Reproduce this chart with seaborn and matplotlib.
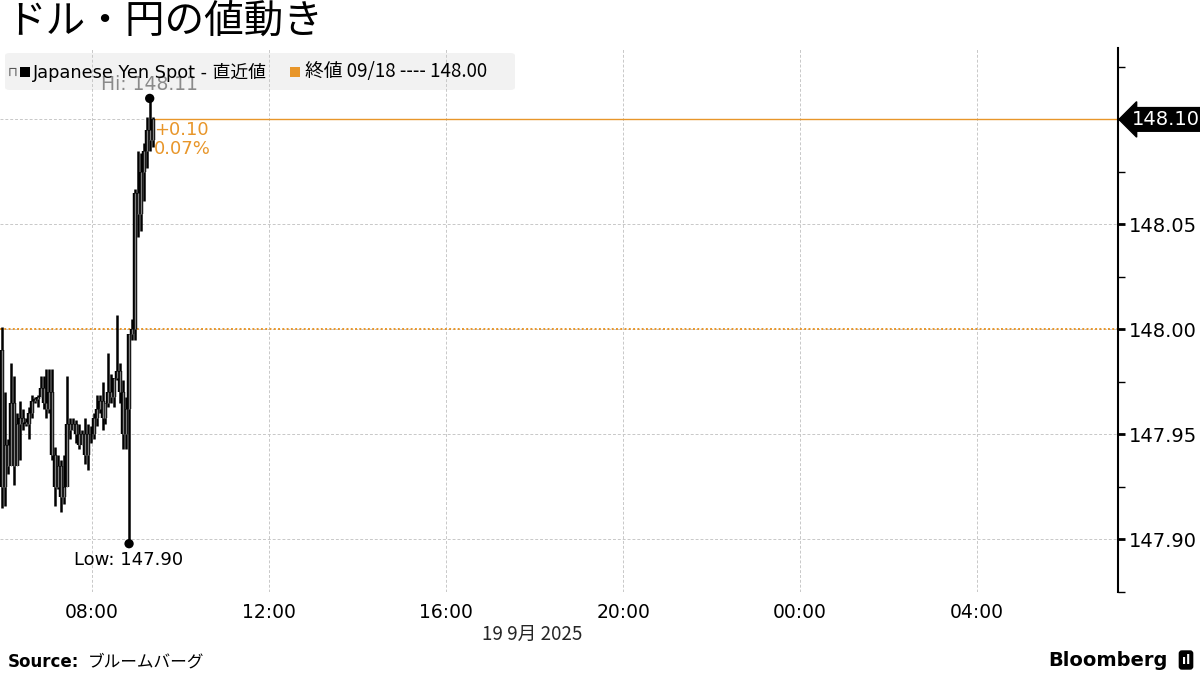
import numpy as np
import pandas as pd
import matplotlib.pyplot as plt
import matplotlib.dates as mdates
from matplotlib.patches import FancyBboxPatch, Rectangle
import seaborn as sns

# USD/JPY 4-min bars, 19 Sep 2025
bar_start = '2025-09-19 05:58'
highs = [148.001, 147.970, 147.948, 147.984, 147.978, 147.960, 147.966, 147.962, 147.958, 147.963,
         147.969, 147.968, 147.969, 147.978, 147.978, 147.981, 147.981, 147.981, 147.944, 147.940,
         147.938, 147.940, 147.978, 147.958, 147.958, 147.957, 147.955, 147.952, 147.958, 147.955,
         147.954, 147.960, 147.969, 147.969, 147.975, 147.965, 147.989, 147.979, 147.977, 148.007,
         147.984, 147.976, 147.968, 147.968, 148.005, 148.067, 148.085, 148.084, 148.089, 148.101,
         148.110, 148.101]
lows = [147.915, 147.916, 147.931, 147.936, 147.926, 147.936, 147.938, 147.952, 147.954, 147.948,
        147.958, 147.965, 147.963, 147.969, 147.962, 147.958, 147.960, 147.938, 147.916, 147.924,
        147.913, 147.917, 147.943, 147.948, 147.952, 147.946, 147.943, 147.946, 147.936, 147.933,
        147.946, 147.948, 147.954, 147.960, 147.952, 147.955, 147.963, 147.965, 147.963, 147.976,
        147.965, 147.943, 147.943, 147.898, 147.995, 147.995, 148.044, 148.047, 148.061, 148.077,
        148.085, 148.087]
opens = [147.990, 147.925, 147.945, 147.935, 147.965, 147.935, 147.955, 147.958, 147.956, 147.955,
         147.960, 147.966, 147.967, 147.968, 147.972, 147.965, 147.962, 147.970, 147.940, 147.925,
         147.935, 147.920, 147.925, 147.955, 147.952, 147.955, 147.950, 147.945, 147.950, 147.940,
         147.950, 147.950, 147.958, 147.962, 147.966, 147.958, 147.965, 147.970, 147.968, 147.977,
         147.980, 147.970, 147.950, 147.962, 147.998, 148.000, 148.065, 148.055, 148.075, 148.085,
         148.095, 148.090]
closes = [147.925, 147.945, 147.935, 147.965, 147.935, 147.955, 147.958, 147.956, 147.955, 147.960,
          147.966, 147.967, 147.968, 147.972, 147.965, 147.962, 147.970, 147.940, 147.925, 147.935,
          147.920, 147.925, 147.955, 147.952, 147.955, 147.950, 147.945, 147.950, 147.940, 147.950,
          147.950, 147.958, 147.962, 147.966, 147.958, 147.965, 147.970, 147.968, 147.977, 147.980,
          147.970, 147.950, 147.962, 147.998, 148.000, 148.065, 148.055, 148.075, 148.085, 148.095,
          148.090, 148.100]
prev_close = 148.00
last_price = 148.10
hi_val, low_val = 148.11, 147.90
yticks = [147.90, 147.95, 148.00, 148.05, 148.10]
xticks = ['2025-09-19 08:00', '2025-09-19 12:00', '2025-09-19 16:00',
          '2025-09-19 20:00', '2025-09-20 00:00', '2025-09-20 04:00']

times = pd.date_range(bar_start, periods=len(highs), freq='4min')
df = pd.DataFrame({'time': times, 'open': opens, 'high': highs, 'low': lows, 'close': closes})

ORANGE = '#E8962A'

sns.set_style('white')
plt.rcParams['font.family'] = ['DejaVu Sans', 'Noto Sans CJK JP']
plt.rcParams['text.color'] = 'black'
plt.rcParams['xtick.color'] = 'black'
plt.rcParams['ytick.color'] = 'black'

fig = plt.figure(figsize=(12, 6.75), dpi=100)
ax = fig.add_axes([0, 1 - 592 / 675, 1118 / 1200, (592 - 48) / 675])
ax.patch.set_alpha(0)

x = mdates.date2num(df['time'])
ax.vlines(x, df['low'], df['high'], color='black', lw=1.8, zorder=3)
body_lo = np.minimum(df['open'], df['close'])
body_hi = np.maximum(df['open'], df['close'])
ax.vlines(x, body_lo, body_hi, color='black', lw=3.2, zorder=3)
ax.vlines(x, body_lo, body_hi, color='#808080', lw=1.0, zorder=4)

# previous close (dotted) and last price line
ax.axhline(prev_close, color=ORANGE, lw=1.4, ls=(0, (1, 1.2)), zorder=2)
ax.plot([x[-1], mdates.date2num(pd.Timestamp('2025-09-20 08:00'))], [last_price, last_price],
        color=ORANGE, lw=1, zorder=2)

# hi / low markers
i_hi = int(np.argmax(df['high']))
i_lo = int(np.argmin(df['low']))
dots = pd.DataFrame({'time': [df['time'][i_hi], df['time'][i_lo]], 'val': [df['high'][i_hi], df['low'][i_lo]]})
sns.scatterplot(data=dots, x='time', y='val', color='black', s=45, ax=ax, zorder=5, edgecolor='none')
ax.annotate(f'Hi: {hi_val:.2f}', (x[i_hi], df['high'][i_hi]), xytext=(0, 3), textcoords='offset points',
            ha='center', va='bottom', fontsize=13.5, color='#8a8a8a', zorder=6, annotation_clip=False)
ax.annotate(f'Low: {low_val:.2f}', (x[i_lo], df['low'][i_lo]), xytext=(0, -5), textcoords='offset points',
            ha='center', va='top', fontsize=13, color='black')

chg = last_price - prev_close
ax.annotate(f'+{chg:.2f}\n{chg / prev_close * 100:.2f}%', (x[-1], last_price), xytext=(1, -1),
            textcoords='offset points', ha='left', va='top', fontsize=13, color=ORANGE, linespacing=1.1)

ax.set_xlim(pd.Timestamp('2025-09-19 05:55'), pd.Timestamp('2025-09-20 07:11'))
ax.set_ylim(147.877, 148.134)
ax.set_xticks(pd.to_datetime(xticks))
ax.xaxis.set_major_formatter(mdates.DateFormatter('%H:%M'))
ax.set_yticks(yticks)
ax.set_yticks(np.arange(147.875, 148.14, 0.05), minor=True)
ax.yaxis.set_major_formatter(plt.FuncFormatter(lambda v, p: f'{v:.2f}'))
ax.yaxis.tick_right()
ax.tick_params(axis='y', which='major', length=5, width=2, labelsize=14, pad=3)
ax.tick_params(axis='y', which='minor', length=5, width=1)
ax.tick_params(axis='x', length=0, labelsize=13.5, pad=8)
ax.grid(True, color='#c8c8c8', ls=(0, (3, 2)), lw=0.7)
for s in ['top', 'left', 'bottom']:
    ax.spines[s].set_visible(False)
ax.spines['right'].set_color('black')
ax.spines['right'].set_linewidth(1.5)
ax.set_xlabel('19 9月 2025', fontsize=13.5, family=['Noto Sans CJK JP'])
ax.xaxis.set_label_coords(532 / 1118, -32 / 544)
ax.set_ylabel('')

# last price tag
ax.text(1.012, last_price, f'{last_price:.2f}', transform=ax.get_yaxis_transform(), ha='left', va='center',
        fontsize=14, color='white', zorder=10,
        bbox=dict(boxstyle='larrow,pad=0.12', fc='black', ec='black'))

# title
fig.text(6 / 1200, 1 - 22 / 675, 'ドル・円の値動き', fontsize=28.5, va='center', ha='left',
         family=['Noto Sans CJK JP'])

# legend box (behind the transparent axes so the grid shows through)
fig.patches.append(FancyBboxPatch((5 / 1200, 1 - 90 / 675), 510 / 1200, 37 / 675,
                                  boxstyle='round,pad=0,rounding_size=0.004', transform=fig.transFigure,
                                  fc='#f2f2f2', ec='none', zorder=-1))
ly = 1 - 72 / 675
fig.text(8 / 1200, ly, '⊓', fontsize=9, va='center', color='#555555', zorder=7)
fig.patches.append(Rectangle((20 / 1200, 1 - 77 / 675), 10 / 1200, 10 / 675, transform=fig.transFigure,
                             fc='black', ec='none', zorder=7))
fig.text(33 / 1200, ly, 'Japanese Yen Spot - 直近値', fontsize=12.8, va='center', zorder=7,
         family=['DejaVu Sans', 'Noto Sans CJK JP'])
fig.patches.append(Rectangle((290 / 1200, 1 - 77 / 675), 10 / 1200, 10 / 675, transform=fig.transFigure,
                             fc=ORANGE, ec='none', zorder=7))
fig.text(305 / 1200, ly, '終値 09/18 ---- 148.00', fontsize=13.5, va='center', zorder=7,
         family=['Noto Sans CJK JP', 'DejaVu Sans'])

# footer
fig.text(8 / 1200, 1 - 662 / 675, 'Source:', fontsize=12, weight='bold', va='center')
fig.text(88 / 1200, 1 - 662 / 675, 'ブルームバーグ', fontsize=12, va='center', family=['Noto Sans CJK JP'])
fig.text(1168 / 1200, 1 - 660 / 675, 'Bloomberg', fontsize=14, weight='bold', va='center', ha='right')
fig.text(1186 / 1200, 1 - 660 / 675, 'ıl', fontsize=9, weight='bold', va='center', ha='center', color='white',
         bbox=dict(boxstyle='round,pad=0.2', fc='black', ec='black'))

fig.savefig('out.png', dpi=100)
